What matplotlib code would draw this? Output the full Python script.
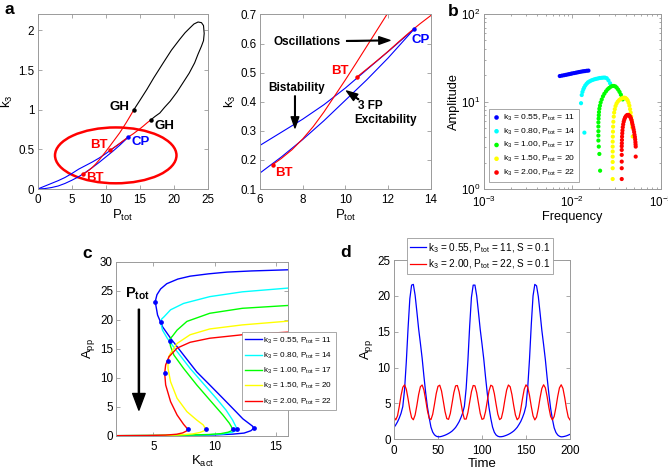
import numpy as np
import matplotlib
matplotlib.use('Agg')
import matplotlib.pyplot as plt
from matplotlib.patches import Ellipse

plt.rcParams['font.family'] = ['Liberation Sans', 'DejaVu Sans']
plt.rcParams['mathtext.fontset'] = 'custom'
plt.rcParams['mathtext.rm'] = 'Liberation Sans'
plt.rcParams['mathtext.it'] = 'Liberation Sans:italic'
plt.rcParams['mathtext.bf'] = 'Liberation Sans:bold'

# ---------------- panel a: two-parameter bifurcation diagram ----------------
sn_upper_p = [0, 1, 2, 3, 4, 5, 6, 7, 8, 9, 10, 11, 12, 13.24]
sn_upper_k = [0, 0.035, 0.07, 0.105, 0.145, 0.195, 0.25, 0.295, 0.34, 0.39, 0.447, 0.51, 0.572, 0.651]
sn_lower_p = [0, 1, 2, 3, 4, 5, 6, 7, 8, 9, 10, 11, 12, 13.24]
sn_lower_k = [0, 0.005, 0.018, 0.038, 0.07, 0.11, 0.155, 0.21, 0.27, 0.335, 0.405, 0.475, 0.55, 0.651]

hopf1_p = [6.6, 7.0, 7.5, 8.0, 8.5, 9.0, 9.5, 10.0, 10.5, 11.0, 11.5, 12.0, 12.5, 13.0, 13.5, 14.1]
hopf1_k = [0.184, 0.205, 0.235, 0.272, 0.315, 0.365, 0.42, 0.475, 0.532, 0.59, 0.648, 0.706, 0.772, 0.84, 0.912, 1.0]
hopf2_p = [10.56, 11.0, 11.5, 12.0, 12.5, 13.0, 13.5, 14.0, 14.5, 15.0, 15.5, 16.0, 16.6]
hopf2_k = [0.486, 0.512, 0.542, 0.573, 0.606, 0.638, 0.668, 0.696, 0.728, 0.76, 0.795, 0.832, 0.873]

homo_p = [14.1, 15.0, 16.0, 17.0, 18.4, 19.6, 20.8, 21.6, 22.3, 22.9, 23.5, 24.0, 24.3, 24.4,
          24.3, 24.0, 23.5, 23.0, 22.2, 21.3, 20.4, 19.4, 18.6, 17.9, 17.2, 16.6]
homo_k = [1.0, 1.12, 1.255, 1.40, 1.59, 1.75, 1.885, 1.97, 2.03, 2.08, 2.105, 2.097, 2.06, 1.96,
          1.87, 1.80, 1.70, 1.59, 1.46, 1.34, 1.22, 1.105, 1.03, 0.958, 0.915, 0.873]

gh_p = [14.1, 16.6]
gh_k = [1.0, 0.873]
bt_p = [6.6, 10.56]
bt_k = [0.184, 0.486]
cp_p = [13.24]
cp_k = [0.651]

zoom_center = (11.44, 0.424)
zoom_size = (17.8, 0.704)

# ---------------- panel b: amplitude vs frequency ----------------
b_labels = ['0.55, P$_\\mathregular{tot}$ = 11', '0.80, P$_\\mathregular{tot}$ = 14',
            '1.00, P$_\\mathregular{tot}$ = 17', '1.50, P$_\\mathregular{tot}$ = 20',
            '2.00, P$_\\mathregular{tot}$ = 22']
b_colors = ['#0000ff', '#00ffff', '#00ff00', '#ffff00', '#ff0000']

blue_f = [0.0072, 0.0076, 0.0080, 0.0084, 0.0088, 0.0092, 0.0096, 0.0100, 0.0105, 0.0110,
          0.0115, 0.0120, 0.0126, 0.0132, 0.0138, 0.0145, 0.0152]
blue_a = [19.6, 19.8, 20.0, 20.2, 20.4, 20.6, 20.8, 21.0, 21.2, 21.4, 21.6, 21.8, 22.0, 22.2,
          22.3, 22.5, 22.6]
cyan_f = [0.01368, 0.01253, 0.01276, 0.0130, 0.0133, 0.0136, 0.0140, 0.0145, 0.0150, 0.0156,
          0.0163, 0.0170, 0.0178, 0.0186, 0.0195, 0.0204, 0.0214, 0.0224, 0.0234, 0.0245,
          0.0256, 0.0267]
cyan_a = [4.43, 9.6, 11.9, 12.9, 13.8, 14.5, 15.3, 16.0, 16.6, 17.0, 17.4, 17.7, 18.0, 18.2,
          18.4, 18.6, 18.7, 18.8, 18.8, 18.5, 17.5, 16.2]
green_f = [0.0206, 0.0202, 0.0199, 0.0197, 0.0197, 0.0197, 0.0197, 0.0197, 0.0198, 0.0199,
           0.0200, 0.0202, 0.0205, 0.0209, 0.0215, 0.0222, 0.0230, 0.0240, 0.0250, 0.0260,
           0.0272, 0.0284, 0.0295, 0.0307, 0.0318, 0.0330, 0.0342, 0.0354, 0.0365, 0.0371]
green_a = [1.63, 2.53, 3.07, 3.6, 4.1, 4.6, 5.2, 5.8, 6.4, 7.0, 7.6, 8.3, 9.0, 9.8, 10.6, 11.5,
           12.3, 13.1, 13.8, 14.3, 14.8, 15.1, 15.1, 14.9, 14.4, 13.7, 12.9, 12.0, 11.1, 10.6]
yellow_f = [0.0286, 0.0286, 0.0286, 0.0286, 0.0286, 0.0286, 0.0286, 0.0287, 0.0288, 0.0289,
            0.0291, 0.0294, 0.0297, 0.0302, 0.0308, 0.0316, 0.0326, 0.0338, 0.0350, 0.0362,
            0.0375, 0.0388, 0.0400, 0.0412, 0.0423, 0.0433, 0.0442, 0.0450, 0.0457, 0.0463,
            0.0468, 0.0473, 0.0477, 0.0482]
yellow_a = [1.31, 1.74, 2.05, 2.36, 2.7, 3.07, 3.5, 3.99, 4.55, 5.19, 5.9, 6.75, 7.5, 8.2, 8.9,
            9.5, 10.0, 10.4, 10.7, 10.9, 11.05, 11.1, 11.0, 10.7, 10.3, 9.7, 9.0, 8.2, 7.5,
            6.8, 6.2, 5.6, 5.1, 4.0]
red_f = [0.0362, 0.0362, 0.0362, 0.0362, 0.0362, 0.0362, 0.0363, 0.0364, 0.0365, 0.0367,
         0.0369, 0.0372, 0.0376, 0.0381, 0.0387, 0.0394, 0.0402, 0.0411, 0.0420, 0.0429,
         0.0437, 0.0445, 0.0452, 0.0460, 0.0467, 0.0474, 0.0481, 0.0488, 0.0494, 0.0500,
         0.0505, 0.0510, 0.0514, 0.0517, 0.0519, 0.0521, 0.0521]
red_a = [1.31, 1.74, 2.07, 2.47, 2.81, 3.1, 3.35, 3.65, 3.99, 4.35, 4.7, 5.1, 5.5, 5.9, 6.25,
         6.55, 6.78, 6.95, 7.05, 7.05, 6.98, 6.85, 6.68, 6.45, 6.15, 5.8, 5.45, 5.1, 4.8, 4.5,
         4.2, 3.95, 3.7, 3.45, 3.25, 3.07, 2.36]

# ---------------- panel c: one-parameter bifurcation curves ----------------
c_blue_k = [2.0, 5.0, 8.0, 10.0, 11.5, 12.4, 12.95, 13.19, 13.08, 12.8, 12.3, 11.73, 10.67, 9.6,
            8.54, 7.47, 6.41, 5.75, 5.35, 5.16, 5.3, 5.6, 6.1, 7.0, 8.0, 9.5, 11.0, 13.0, 16.0]
c_blue_a = [0.0, 0.02, 0.06, 0.13, 0.27, 0.45, 0.85, 1.28, 1.65, 2.1, 2.9, 4.15, 6.45, 8.75,
            11.0, 13.9, 16.8, 18.8, 20.8, 23.1, 24.3, 25.3, 26.2, 27.0, 27.5, 27.9, 28.2, 28.4, 28.6]
c_cyan_k = [2.0, 5.0, 7.5, 9.5, 10.7, 11.4, 11.72, 11.81, 11.72, 11.46, 10.93, 10.13, 9.07, 8.0,
            6.94, 6.14, 5.75, 5.61, 5.68, 5.88, 6.41, 7.47, 9.6, 12.26, 16.0]
c_cyan_a = [0.0, 0.03, 0.08, 0.16, 0.3, 0.55, 0.85, 1.1, 1.6, 2.7, 4.4, 6.45, 9.0, 11.6, 14.5,
            16.8, 18.2, 19.55, 20.1, 20.5, 21.7, 22.8, 23.97, 24.8, 25.45]
c_green_k = [2.0, 5.0, 7.5, 9.5, 10.5, 11.1, 11.38, 11.46, 11.35, 11.2, 10.67, 9.6, 8.54, 7.47,
             6.68, 6.41, 6.33, 6.4, 6.54, 6.94, 7.74, 9.6, 12.26, 16.0]
c_green_a = [0.0, 0.03, 0.1, 0.2, 0.35, 0.6, 0.85, 1.1, 1.6, 2.14, 3.57, 6.16, 8.75, 11.6, 13.9,
             15.4, 16.3, 16.8, 17.1, 18.2, 19.7, 21.1, 21.96, 22.45]
c_yellow_k = [2.0, 5.0, 7.0, 8.2, 8.8, 9.15, 9.28, 9.07, 8.54, 7.74, 6.94, 6.41, 6.2, 6.2, 6.28,
              6.41, 6.94, 8.0, 9.6, 12.26, 16.0]
c_yellow_a = [0.0, 0.04, 0.12, 0.3, 0.55, 0.85, 1.1, 1.85, 2.7, 4.15, 6.45, 9.3, 11.6, 12.9,
              13.7, 14.2, 15.9, 17.4, 18.4, 19.1, 19.75]
c_red_k = [2.0, 4.5, 6.0, 6.9, 7.4, 7.7, 7.82, 7.47, 6.94, 6.41, 6.01, 5.93, 6.01, 6.28, 6.94,
           8.0, 9.6, 12.26, 16.0]
c_red_a = [0.0, 0.03, 0.1, 0.25, 0.48, 0.8, 1.1, 1.96, 3.57, 5.87, 8.75, 10.76, 12.2, 13.6,
           15.1, 16.1, 16.8, 17.4, 17.85]
fold_k = [5.16, 5.61, 6.33, 6.2, 5.93, 13.19, 11.81, 11.46, 9.28, 7.82]
fold_a = [23.1, 19.55, 16.3, 12.9, 10.76, 1.28, 1.1, 1.1, 1.1, 1.1]

# ---------------- panel d: time courses ----------------
time = np.arange(0, 201, 2)
app_osc = [1.64, 2.0, 2.43, 2.96, 3.62, 4.56, 6.9, 10.8, 15.5, 19.6, 21.5, 21.6, 20.1, 17.8,
           15.4, 13.4, 11.3, 8.8, 6.5, 4.5, 3.0, 1.7, 1.0, 0.62, 0.43, 0.35, 0.35, 0.4, 0.48,
           0.57, 0.68, 0.81, 0.96, 1.14, 1.38, 1.65, 2.03, 2.45, 3.0, 3.65, 4.6, 7.1, 11.0,
           15.8, 19.8, 21.5, 21.5, 20.0, 17.7, 15.3, 13.3, 11.2, 8.7, 6.4, 4.4, 2.9, 1.7, 0.98,
           0.6, 0.42, 0.35, 0.36, 0.4, 0.48, 0.57, 0.68, 0.81, 0.97, 1.15, 1.39, 1.67, 2.05,
           2.47, 3.03, 3.7, 4.67, 7.3, 11.2, 16.0, 20.0, 21.6, 21.4, 19.9, 17.6, 15.2, 13.2,
           11.1, 8.6, 6.3, 4.3, 2.8, 1.6, 0.95, 0.6, 0.42, 0.34, 0.36, 0.41, 0.48, 0.58, 0.69]
app_fast = [3.09, 2.70, 3.27, 4.57, 6.10, 7.25, 7.59, 6.98, 5.65, 4.13, 3.01, 2.72, 3.38, 4.72,
            6.24, 7.33, 7.57, 6.87, 5.50, 3.99, 2.94, 2.74, 3.49, 4.88, 6.38, 7.39, 7.54, 6.75,
            5.34, 3.86, 2.88, 2.78, 3.60, 5.03, 6.50, 7.45, 7.50, 6.63, 5.19, 3.73, 2.82, 2.82,
            3.73, 5.19, 6.63, 7.50, 7.45, 6.50, 5.03, 3.60, 2.78, 2.88, 3.86, 5.34, 6.75, 7.54,
            7.39, 6.38, 4.88, 3.49, 2.74, 2.94, 3.99, 5.50, 6.87, 7.57, 7.33, 6.24, 4.72, 3.38,
            2.72, 3.01, 4.13, 5.65, 6.98, 7.59, 7.25, 6.10, 4.57, 3.27, 2.70, 3.09, 4.28, 5.80,
            7.08, 7.60, 7.17, 5.95, 4.42, 3.18, 2.70, 3.18, 4.42, 5.95, 7.17, 7.60, 7.08, 5.80,
            4.28, 3.09, 2.70]
d_labels = ['k$_\\mathregular{3}$ = 0.55, P$_\\mathregular{tot}$ = 11, S = 0.1',
            'k$_\\mathregular{3}$ = 2.00, P$_\\mathregular{tot}$ = 22, S = 0.1']

FRAME = '#9a9a9a'
K3 = 'k$_\\mathregular{3}$'
PTOT = 'P$_\\mathregular{tot}$'
APP = 'A$_\\mathregular{pp}$'


def style(ax):
    for s in ax.spines.values():
        s.set_color(FRAME)
        s.set_linewidth(0.7)
    ax.tick_params(which='both', direction='in', top=True, right=True, color=FRAME,
                   labelsize=8.4, width=0.6)
    ax.tick_params(which='major', length=2.6)
    ax.tick_params(which='minor', length=1.5)
    ax.tick_params(axis='x', pad=3.8)
    ax.tick_params(axis='y', pad=2.5)


def frame_legend(leg):
    leg.get_frame().set_edgecolor(FRAME)
    leg.get_frame().set_linewidth(0.6)


fig = plt.figure(figsize=(6.68, 4.73), dpi=100)

# panel a, full view
ax = fig.add_axes([0.0564, 0.6004, 0.2554, 0.369])
style(ax)
ax.plot(sn_upper_p, sn_upper_k, color='#0000ff', lw=0.8)
ax.plot(sn_lower_p, sn_lower_k, color='#0000ff', lw=0.8)
ax.plot(hopf1_p, hopf1_k, color='#ff0000', lw=0.8)
ax.plot(hopf2_p, hopf2_k, color='#ff0000', lw=0.8)
ax.plot(homo_p, homo_k, color='k', lw=0.8)
ax.plot(gh_p, gh_k, 'o', color='k', ms=2.2)
ax.plot(bt_p, bt_k, 'o', color='#ff0000', ms=2.2)
ax.plot(cp_p, cp_k, 'o', color='#0000ff', ms=2.2)
ax.add_patch(Ellipse(zoom_center, zoom_size[0], zoom_size[1], fill=False,
                     edgecolor='#ff0000', lw=1.8))
bold = dict(fontsize=9.5, fontweight='bold', ha='center', va='center')
ax.text(12.05, 1.03, 'GH', color='k', **bold)
ax.text(18.6, 0.80, 'GH', color='k', **bold)
ax.text(8.95, 0.56, 'BT', color='#ff0000', **bold)
ax.text(15.1, 0.59, 'CP', color='#0000ff', **bold)
ax.text(8.4, 0.135, 'BT', color='#ff0000', **bold)
ax.set_xlim(0, 25)
ax.set_ylim(0, 2.2)
ax.set_xticks([0, 5, 10, 15, 20, 25])
ax.set_yticks([0, 0.5, 1, 1.5, 2])
ax.set_yticklabels(['0', '0.5', '1', '1.5', '2'])
ax.set_xlabel(PTOT, fontsize=9.5, labelpad=1)
ax.set_ylabel(K3, fontsize=9.5, labelpad=2)

# panel a, zoom
ax = fig.add_axes([0.3892, 0.6004, 0.2555, 0.369])
style(ax)
ax.plot(sn_upper_p, sn_upper_k, color='#0000ff', lw=0.8)
ax.plot(sn_lower_p, sn_lower_k, color='#0000ff', lw=0.8)
ax.plot(hopf1_p, hopf1_k, color='#ff0000', lw=0.8)
ax.plot(hopf2_p, hopf2_k, color='#ff0000', lw=0.8)
ax.plot(bt_p, bt_k, 'o', color='#ff0000', ms=2.2)
ax.plot(cp_p, cp_k, 'o', color='#0000ff', ms=2.2)
ax.text(9.75, 0.505, 'BT', color='#ff0000', **bold)
ax.text(7.13, 0.154, 'BT', color='#ff0000', **bold)
ax.text(13.54, 0.611, 'CP', color='#0000ff', **bold)
small = dict(fontsize=8.5, fontweight='bold', ha='center', va='center')
ax.text(8.21, 0.604, 'Oscillations', **small)
ax.text(7.72, 0.448, 'Bistability', **small)
ax.text(11.16, 0.384, '3 FP', **small)
ax.text(11.9, 0.337, 'Excitability', **small)
arr = dict(facecolor='k', edgecolor='k', width=0.5, headwidth=5.5, headlength=8, shrink=0)
ax.annotate('', xy=(12.09, 0.611), xytext=(10.06, 0.609), arrowprops=arr)
ax.annotate('', xy=(7.64, 0.31), xytext=(7.64, 0.42), arrowprops=arr)
ax.annotate('', xy=(10.06, 0.437), xytext=(10.62, 0.408), arrowprops=arr)
ax.set_xlim(6, 14)
ax.set_ylim(0.1, 0.7)
ax.set_xticks([6, 8, 10, 12, 14])
ax.set_yticks([0.1, 0.2, 0.3, 0.4, 0.5, 0.6, 0.7])
ax.set_xlabel(PTOT, fontsize=9.5, labelpad=1)
ax.set_ylabel(K3, fontsize=9.5, labelpad=2)

# panel b
ax = fig.add_axes([0.7246, 0.5998, 0.2645, 0.3706])
style(ax)
series_b = [(blue_f, blue_a), (cyan_f, cyan_a), (green_f, green_a), (yellow_f, yellow_a),
            (red_f, red_a)]
for (f, a), col, lab in zip(series_b, b_colors, b_labels):
    ax.scatter(f, a, s=9, color=col, edgecolors='none', label=K3 + ' = ' + lab)
ax.set_xscale('log')
ax.set_yscale('log')
ax.set_xlim(1e-3, 1e-1)
ax.set_ylim(1, 100)
ax.set_xlabel('Frequency', fontsize=9.2, labelpad=1)
ax.set_ylabel('Amplitude', fontsize=9.2, labelpad=1)
leg = ax.legend(loc='lower left', bbox_to_anchor=(0.03, 0.043), borderaxespad=0,
                fontsize=6.1, fancybox=False, framealpha=1, handlelength=0.8,
                handletextpad=0.4, labelspacing=0.42, borderpad=0.45, markerscale=1.1)
frame_legend(leg)

# panel c
ax = fig.add_axes([0.1743, 0.0789, 0.2573, 0.3679])
style(ax)
c_series = [(c_blue_k, c_blue_a), (c_cyan_k, c_cyan_a), (c_green_k, c_green_a),
            (c_yellow_k, c_yellow_a), (c_red_k, c_red_a)]
for (k, a), col, lab in zip(c_series, b_colors, b_labels):
    ax.plot(k, a, color=col, lw=1.0, label=K3 + ' = ' + lab)
ax.plot(fold_k, fold_a, 'o', color='#0000ff', ms=2.4, zorder=5)
ax.annotate('', xy=(3.83, 4.4), xytext=(3.83, 21.8),
            arrowprops=dict(facecolor='k', edgecolor='k', width=0.8, headwidth=9,
                            headlength=12, shrink=0))
ax.text(3.7, 24.4, '$\\mathbf{P_{tot}}$', fontsize=10.5, ha='center', va='center')
ax.set_xlim(2, 16)
ax.set_ylim(0, 30)
ax.set_xticks([5, 10, 15])
ax.set_yticks([0, 5, 10, 15, 20, 25, 30])
ax.set_xlabel('K$_\\mathregular{act}$', fontsize=9.5, labelpad=1)
ax.set_ylabel(APP, fontsize=9.5, labelpad=2)
leg = ax.legend(loc='lower left', bbox_to_anchor=(0.7306, 0.148), borderaxespad=0,
                fontsize=5.9, fancybox=False, framealpha=1, handlelength=2.0,
                handletextpad=0.2, labelspacing=0.62, borderpad=0.4)
frame_legend(leg)

# panel d
ax = fig.add_axes([0.5898, 0.0713, 0.2635, 0.379])
style(ax)
ax.plot(time, app_osc, color='#0000ff', lw=0.9, label=d_labels[0])
ax.plot(time, app_fast, color='#ff0000', lw=0.9, label=d_labels[1])
ax.set_xlim(0, 200)
ax.set_ylim(0, 25)
ax.set_xticks([0, 50, 100, 150, 200])
ax.set_yticks([0, 5, 10, 15, 20, 25])
ax.set_xlabel('Time', fontsize=9.5, labelpad=1)
ax.set_ylabel(APP, fontsize=9.5, labelpad=2)
leg = ax.legend(loc='lower left', bbox_to_anchor=(0.0756, 0.92), borderaxespad=0,
                fontsize=7.2, fancybox=False, framealpha=1, handlelength=1.6,
                handletextpad=0.2, labelspacing=0.3, borderpad=0.3)
frame_legend(leg)

# panel letters
for x, y, s in [(9, 10, 'a'), (453, 12, 'b'), (87, 253, 'c'), (346, 252, 'd')]:
    fig.text(x / 668, 1 - y / 473, s, fontsize=12.5, fontweight='bold', ha='center', va='center')

fig.savefig('out.png', dpi=100)
